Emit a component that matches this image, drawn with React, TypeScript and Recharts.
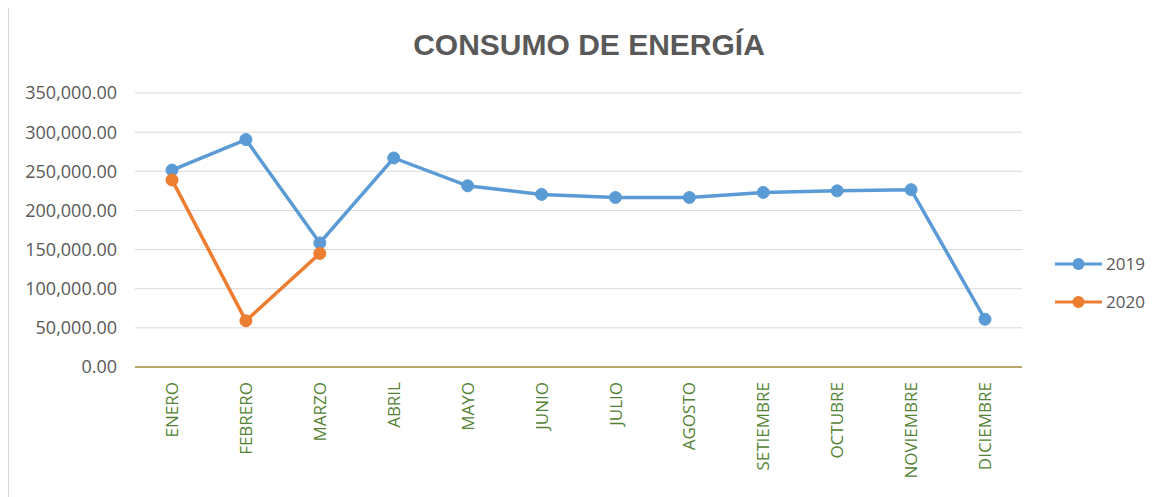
import React from 'react';
import { LineChart, Line, XAxis, YAxis, CartesianGrid } from 'recharts';

const months = ['ENERO', 'FEBRERO', 'MARZO', 'ABRIL', 'MAYO', 'JUNIO', 'JULIO', 'AGOSTO', 'SETIEMBRE', 'OCTUBRE', 'NOVIEMBRE', 'DICIEMBRE'];
const values2019 = [251500, 290500, 158500, 267000, 231500, 220500, 216500, 216500, 223000, 225000, 226500, 61000];
const values2020: (number | null)[] = [239000, 59000, 145000, null, null, null, null, null, null, null, null, null];
const yTicks = [0, 50000, 100000, 150000, 200000, 250000, 300000, 350000];
const seriesNames = ['2019', '2020'];
const colors = ['#5b9bd5', '#ed7d31'];

const data = months.map((m, i) => ({ month: m, s2019: values2019[i], s2020: values2020[i] }));

const fmt = (v: number) =>
  v.toLocaleString('en-US', { minimumFractionDigits: 2, maximumFractionDigits: 2 });

const XTick = (props: any) => {
  const { x, y, payload } = props;
  return (
    <text
      x={x}
      y={y}
      transform={`rotate(-90, ${x}, ${y})`}
      textAnchor="end"
      dy="0.36em"
      fill="#548235"
      fontSize={17}
      fontFamily="'Open Sans', sans-serif"
    >
      {payload.value}
    </text>
  );
};

const LegendBox = () => (
  <div
    style={{
      position: 'absolute', left: 1047, top: 239, width: 110,
      fontFamily: "'Open Sans', sans-serif", fontSize: 17, color: '#595959',
    }}
  >
    {seriesNames.map((n, i) => (
      <div key={n} style={{ display: 'flex', alignItems: 'center', height: 38 }}>
        <svg width={51} height={14} style={{ display: 'block' }}>
          <line x1={0} y1={7} x2={47} y2={7} stroke={colors[i]} strokeWidth={3} />
          <circle cx={23.5} cy={7} r={6} fill={colors[i]} />
        </svg>
        <span style={{ lineHeight: '20px' }}>{n}</span>
      </div>
    ))}
  </div>
);

export default function App() {
  return (
    <div style={{ position: 'relative', width: 1159, height: 491, marginTop: -2, background: '#fff' }}>
      <div
        style={{
          position: 'absolute', left: 0, top: 0, width: 1159, height: 491,
          borderLeft: '1px solid #d9d9d9', borderTop: '1px solid #d9d9d9', boxSizing: 'border-box',
          pointerEvents: 'none',
        }}
      />
      <div
        style={{
          position: 'absolute', left: 0, top: 24, width: 1162, textAlign: 'center',
          fontFamily: "'Liberation Sans', Arial, sans-serif", fontWeight: 'bold', fontSize: 30,
          lineHeight: '29px', color: '#595959',
        }}
      >
        CONSUMO DE ENERGÍA
      </div>
      <LineChart
        width={1159}
        height={491}
        data={data}
        margin={{ top: 87, right: 145, bottom: 0, left: 0 }}
        style={{ position: 'absolute', left: 0, top: 0 }}
      >
        <CartesianGrid horizontal vertical={false} stroke="#d9d9d9" strokeWidth={1} />
        <XAxis
          dataKey="month"
          interval={0}
          height={130}
          padding={{ left: 37, right: 37 }}
          tick={<XTick />}
          tickLine={false}
          tickSize={0}
          tickMargin={15}
          axisLine={{ stroke: '#b8a56b', strokeWidth: 2 }}
        />
        <YAxis
          width={127}
          domain={[0, 350000]}
          ticks={yTicks}
          tickFormatter={fmt}
          axisLine={false}
          tickLine={false}
          tickSize={0}
          tickMargin={18}
          tick={{ fill: '#595959', fontSize: 18, fontFamily: "'Open Sans', sans-serif" }}
        />
        <Line
          dataKey="s2019"
          name="2019"
          stroke={colors[0]}
          strokeWidth={3.5}
          dot={{ r: 6, fill: colors[0], stroke: colors[0], strokeWidth: 1 }}
          isAnimationActive={false}
        />
        <Line
          dataKey="s2020"
          name="2020"
          stroke={colors[1]}
          strokeWidth={3.5}
          dot={{ r: 6, fill: colors[1], stroke: colors[1], strokeWidth: 1 }}
          isAnimationActive={false}
        />
      </LineChart>
      <LegendBox />
    </div>
  );
}
